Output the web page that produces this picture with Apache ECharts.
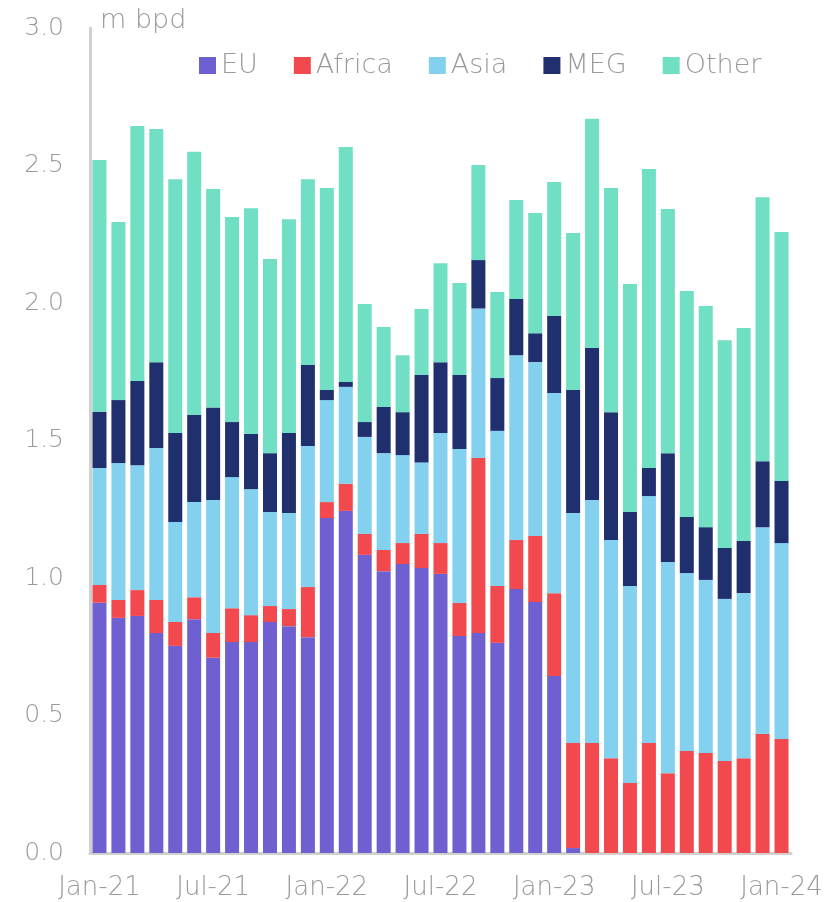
<!DOCTYPE html>
<html>
<head>
<meta charset="utf-8">
<script src="https://cdn.jsdelivr.net/npm/echarts@6/dist/echarts.min.js"></script>
<style>
  html, body { margin: 0; padding: 0; background: #ffffff; }
</style>
</head>
<body>
<div id="chart" style="width: 833px; height: 902px;"></div>
<script>
// months Jan-21 .. Jan-24
var months = ['Jan-21','Feb-21','Mar-21','Apr-21','May-21','Jun-21','Jul-21','Aug-21','Sep-21','Oct-21','Nov-21','Dec-21',
  'Jan-22','Feb-22','Mar-22','Apr-22','May-22','Jun-22','Jul-22','Aug-22','Sep-22','Oct-22','Nov-22','Dec-22',
  'Jan-23','Feb-23','Mar-23','Apr-23','May-23','Jun-23','Jul-23','Aug-23','Sep-23','Oct-23','Nov-23','Dec-23','Jan-24'];

var eu = [0.91,0.855,0.862,0.80,0.753,0.85,0.71,0.767,0.767,0.84,0.825,0.785,
  1.218,1.244,1.084,1.025,1.051,1.036,1.015,0.789,0.80,0.764,0.96,0.913,
  0.644,0.018,0,0,0,0,0,0,0,0,0,0,0];
var africa = [0.065,0.065,0.094,0.12,0.087,0.08,0.09,0.123,0.098,0.058,0.062,0.182,
  0.058,0.099,0.076,0.077,0.076,0.124,0.112,0.12,0.636,0.207,0.178,0.24,
  0.301,0.382,0.40,0.345,0.255,0.40,0.29,0.371,0.364,0.335,0.345,0.433,0.415];
var asia = [0.425,0.498,0.454,0.553,0.364,0.346,0.484,0.477,0.458,0.342,0.349,0.513,
  0.371,0.352,0.353,0.352,0.32,0.26,0.40,0.56,0.544,0.564,0.672,0.632,
  0.728,0.836,0.884,0.793,0.716,0.898,0.768,0.647,0.629,0.589,0.60,0.752,0.712];
var meg = [0.205,0.229,0.306,0.312,0.323,0.317,0.336,0.20,0.201,0.214,0.291,0.295,
  0.037,0.018,0.054,0.168,0.156,0.318,0.258,0.269,0.176,0.192,0.205,0.105,
  0.28,0.448,0.552,0.465,0.269,0.102,0.396,0.204,0.192,0.185,0.19,0.24,0.226];
var other = [0.915,0.648,0.928,0.848,0.923,0.957,0.795,0.746,0.821,0.706,0.778,0.675,
  0.734,0.854,0.429,0.291,0.207,0.24,0.36,0.335,0.346,0.313,0.36,0.437,
  0.487,0.571,0.834,0.815,0.829,1.087,0.888,0.822,0.804,0.756,0.774,0.96,0.905];

var seriesNames = ['EU', 'Africa', 'Asia', 'MEG', 'Other'];
var seriesData = [eu, africa, asia, meg, other];
var colors = ['#6e60d0', '#f2494f', '#84d1ef', '#20306f', '#70dfc4'];

var txt = '#9a9a9a';
var font = '"DejaVu Sans", sans-serif';

var chart = echarts.init(document.getElementById('chart'));
chart.setOption({
  animation: false,
  color: colors,
  textStyle: { fontFamily: font },
  legend: {
    data: seriesNames,
    top: 47,
    left: 194,
    icon: 'rect',
    itemWidth: 17,
    itemHeight: 17,
    itemGap: 36,
    textStyle: { color: txt, fontSize: 27, fontFamily: font, fontWeight: 200 }
  },
  grid: { left: 90, right: 42, top: 28, bottom: 49 },
  xAxis: {
    type: 'category',
    data: months,
    axisLine: { show: true, lineStyle: { color: '#d0d0d0', width: 3 } },
    axisTick: { show: false },
    axisLabel: {
      interval: 5,
      color: txt,
      fontSize: 26,
      margin: 22,
      fontFamily: font,
      fontWeight: 200
    }
  },
  yAxis: {
    type: 'value',
    min: 0,
    max: 3,
    interval: 0.5,
    name: 'm bpd',
    nameLocation: 'end',
    nameGap: -6,
    nameTextStyle: { color: txt, fontSize: 27, align: 'left', padding: [0, 0, 0, 10], fontFamily: font, fontWeight: 200 },
    axisLine: { show: true, lineStyle: { color: '#d0d0d0', width: 3 } },
    axisTick: { show: false },
    splitLine: { show: false },
    axisLabel: {
      color: txt,
      fontSize: 25,
      margin: 26,
      fontFamily: font,
      fontWeight: 200,
      formatter: function (v) { return v.toFixed(1); }
    }
  },
  series: seriesNames.map(function (name, i) {
    return {
      name: name,
      type: 'bar',
      stack: 'total',
      barWidth: '74%',
      data: seriesData[i]
    };
  })
});
</script>
</body>
</html>
